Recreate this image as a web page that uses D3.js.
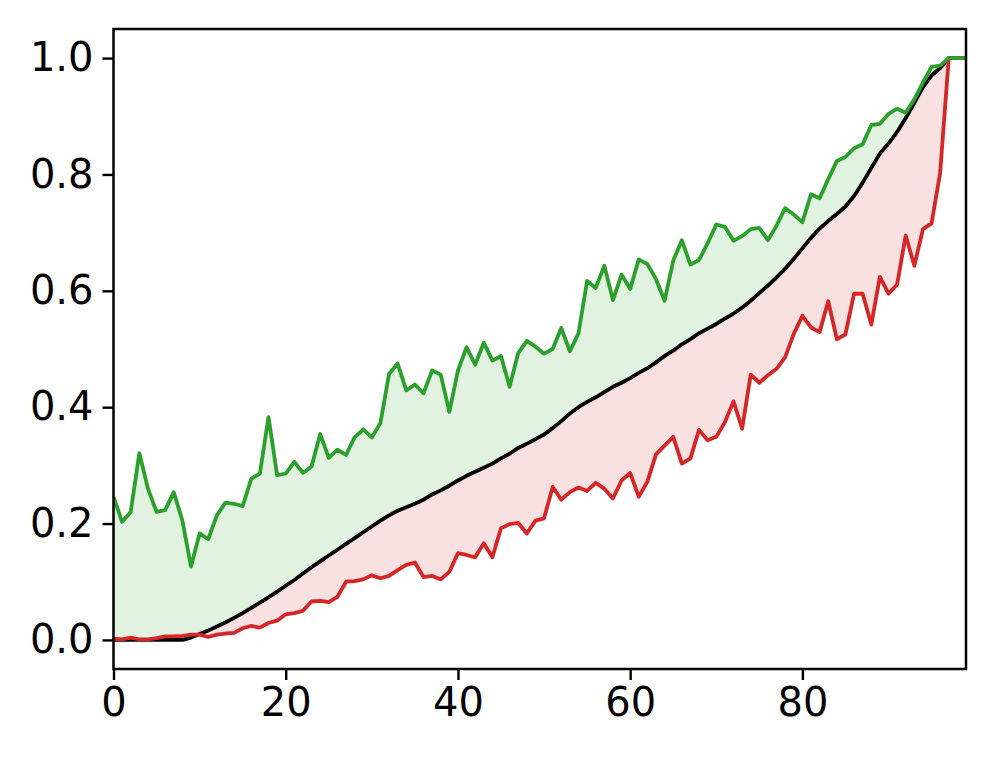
<!DOCTYPE html>
<html>
<head>
<meta charset="utf-8">
<script src="https://cdn.jsdelivr.net/npm/d3@7"></script>
<style>
  html, body { margin: 0; padding: 0; background: #fff; }
  svg { display: block; }
  .tick text { font-family: "DejaVu Sans", sans-serif; fill: #000; }
</style>
</head>
<body>
<div id="chart"></div>
<script>
// ---- data ----
const upperValues = [
  0.246, 0.203, 0.220, 0.321, 0.260, 0.220, 0.223, 0.254, 0.205, 0.126,
  0.183, 0.173, 0.214, 0.236, 0.234, 0.230, 0.277, 0.286, 0.383, 0.283,
  0.286, 0.306, 0.287, 0.298, 0.354, 0.313, 0.327, 0.318, 0.348, 0.362,
  0.348, 0.373, 0.457, 0.475, 0.429, 0.439, 0.424, 0.463, 0.456, 0.392,
  0.463, 0.503, 0.473, 0.511, 0.480, 0.488, 0.435, 0.493, 0.514, 0.504,
  0.492, 0.500, 0.536, 0.496, 0.527, 0.617, 0.605, 0.643, 0.584, 0.628,
  0.603, 0.654, 0.646, 0.620, 0.583, 0.652, 0.687, 0.645, 0.653, 0.682,
  0.714, 0.710, 0.686, 0.694, 0.706, 0.708, 0.687, 0.712, 0.742, 0.731,
  0.718, 0.766, 0.759, 0.792, 0.823, 0.830, 0.845, 0.852, 0.885, 0.887,
  0.904, 0.913, 0.906, 0.929, 0.958, 0.985, 0.987, 1.000, 1.000, 1.000
];
const middleValues = [
  0.000, 0.000, 0.000, 0.000, 0.000, 0.000, 0.000, 0.000, 0.000, 0.004,
  0.010, 0.016, 0.023, 0.030, 0.038, 0.046, 0.055, 0.064, 0.073, 0.083,
  0.093, 0.103, 0.114, 0.125, 0.135, 0.145, 0.155, 0.165, 0.175, 0.185,
  0.195, 0.205, 0.214, 0.222, 0.228, 0.234, 0.241, 0.250, 0.257, 0.265,
  0.274, 0.282, 0.289, 0.296, 0.303, 0.312, 0.320, 0.330, 0.337, 0.345,
  0.353, 0.364, 0.376, 0.389, 0.400, 0.409, 0.417, 0.426, 0.435, 0.442,
  0.450, 0.459, 0.467, 0.477, 0.488, 0.497, 0.508, 0.517, 0.527, 0.535,
  0.543, 0.552, 0.561, 0.571, 0.583, 0.596, 0.609, 0.623, 0.638, 0.655,
  0.673, 0.691, 0.707, 0.720, 0.732, 0.745, 0.763, 0.786, 0.811, 0.836,
  0.853, 0.873, 0.897, 0.923, 0.950, 0.970, 0.983, 1.000, 1.000, 1.000
];
const lowerValues = [
  0.002, 0.001, 0.004, 0.001, 0.001, 0.003, 0.006, 0.006, 0.007, 0.009,
  0.009, 0.005, 0.009, 0.011, 0.012, 0.020, 0.024, 0.021, 0.029, 0.033,
  0.044, 0.046, 0.050, 0.066, 0.067, 0.065, 0.074, 0.100, 0.101, 0.104,
  0.111, 0.106, 0.110, 0.120, 0.129, 0.133, 0.108, 0.110, 0.104, 0.117,
  0.149, 0.146, 0.142, 0.166, 0.142, 0.192, 0.199, 0.201, 0.183, 0.205,
  0.209, 0.263, 0.241, 0.254, 0.262, 0.256, 0.270, 0.260, 0.243, 0.274,
  0.287, 0.246, 0.272, 0.319, 0.334, 0.349, 0.303, 0.312, 0.361, 0.343,
  0.349, 0.374, 0.410, 0.363, 0.456, 0.442, 0.455, 0.466, 0.486, 0.526,
  0.557, 0.537, 0.529, 0.582, 0.517, 0.525, 0.595, 0.595, 0.542, 0.624,
  0.595, 0.611, 0.695, 0.643, 0.706, 0.716, 0.803, 1.000, 1.000, 1.000
];
const xTickValues = [0, 20, 40, 60, 80];
const yTickValues = [0.0, 0.2, 0.4, 0.6, 0.8, 1.0];

// ---- layout ----
const W = 996, H = 758;
const margin = { left: 113.5, right: 30, top: 29, bottom: 89 };
const innerW = W - margin.left - margin.right;
const innerH = H - margin.top - margin.bottom;

const svg = d3.select("#chart").append("svg").attr("width", W).attr("height", H);
const g = svg.append("g").attr("transform", `translate(${margin.left},${margin.top})`);

const x = d3.scaleLinear().domain([0, upperValues.length - 1]).range([0, innerW]);
const y = d3.scaleLinear().domain([-0.05, 1.05]).range([innerH, 0]);

const idx = d3.range(upperValues.length);

svg.append("clipPath").attr("id", "clip")
  .append("rect").attr("width", innerW).attr("height", innerH);
const plot = g.append("g").attr("clip-path", "url(#clip)");

// fills
plot.append("path")
  .datum(idx)
  .attr("fill", "rgba(44,160,44,0.14)")
  .attr("d", d3.area().x(i => x(i)).y0(i => y(middleValues[i])).y1(i => y(upperValues[i])));
plot.append("path")
  .datum(idx)
  .attr("fill", "rgba(214,39,40,0.14)")
  .attr("d", d3.area().x(i => x(i)).y0(i => y(lowerValues[i])).y1(i => y(middleValues[i])));

const lineOf = arr => d3.line().x(i => x(i)).y(i => y(arr[i]));

plot.append("path").datum(idx).attr("fill", "none").attr("stroke", "#000")
  .attr("stroke-width", 3.8).attr("stroke-linejoin", "round").attr("d", lineOf(middleValues));
plot.append("path").datum(idx).attr("fill", "none").attr("stroke", "#d62728")
  .attr("stroke-width", 3.8).attr("stroke-linejoin", "round").attr("d", lineOf(lowerValues));
plot.append("path").datum(idx).attr("fill", "none").attr("stroke", "#2ca02c")
  .attr("stroke-width", 3.8).attr("stroke-linejoin", "round").attr("d", lineOf(upperValues));

// axes
const xAxis = g.append("g").attr("transform", `translate(0,${innerH})`)
  .call(d3.axisBottom(x).tickValues(xTickValues).tickFormat(d3.format("d")).tickSize(11).tickPadding(8));
const yAxis = g.append("g")
  .call(d3.axisLeft(y).tickValues(yTickValues).tickFormat(d3.format(".1f")).tickSize(11).tickPadding(9));
[xAxis, yAxis].forEach(a => {
  a.select(".domain").remove();
  a.selectAll(".tick line").attr("stroke", "#000").attr("stroke-width", 2.4);
  a.selectAll(".tick text").style("font-size", "40px").style("font-family", "'DejaVu Sans', sans-serif");
});

// frame
g.append("rect").attr("width", innerW).attr("height", innerH)
  .attr("fill", "none").attr("stroke", "#000").attr("stroke-width", 2.5);
</script>
</body>
</html>
